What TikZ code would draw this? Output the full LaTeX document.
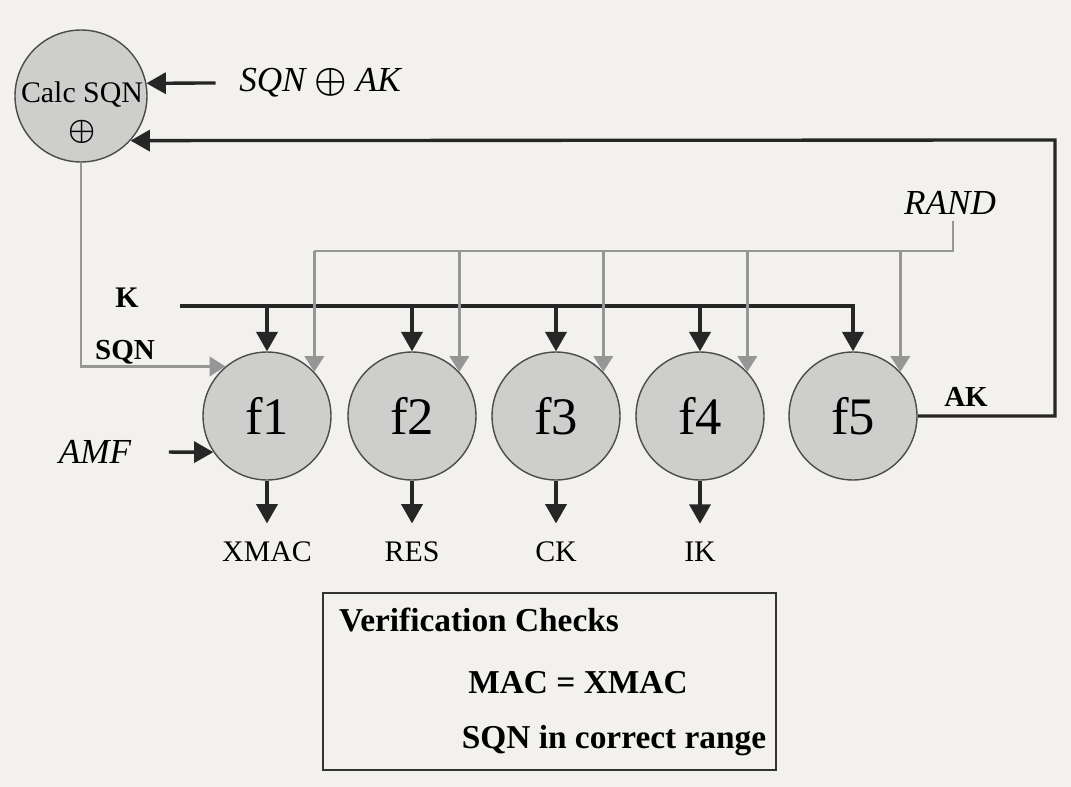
\documentclass[tikz,border=0pt]{standalone}
\usepackage{amsmath}
\usepackage{fontspec}
\setmainfont{Liberation Serif}
\usetikzlibrary{arrows.meta,positioning,calc}

\definecolor{paper}{RGB}{242,241,238}
\definecolor{disc}{RGB}{206,206,204}
\definecolor{wire}{RGB}{150,150,150}

\tikzset{
  fn/.style={circle, draw=black!70, fill=disc, line width=0.8pt, minimum size=2.56cm, inner sep=0pt, font=\fontsize{30}{30}\selectfont},
  bus/.style={line width=1.9pt, black!85},
  randwire/.style={line width=1.6pt, wire},
  arr/.style={bus, -{Triangle[length=11pt,width=12pt]}},
  garr/.style={randwire, -{Triangle[length=9pt,width=11pt]}},
  lbl/.style={font=\fontsize{17}{17}\selectfont},
  blbl/.style={font=\fontsize{16.5}{16.5}\selectfont\bfseries},
  ilbl/.style={font=\fontsize{20}{20}\selectfont\itshape},
}

\begin{document}
\begin{tikzpicture}[x=0.02cm, y=-0.02cm]
        % Page area and paper tone
        \useasboundingbox[fill=paper] (0,0) rectangle (1071,787);

        % Sequence number calculation
        \node[fn, minimum size=2.64cm] (calc) at (81,96) {};
        \node[font=\fontsize{17}{17}\selectfont, inner sep=0pt] (calctxt) at (82,95) {Calc SQN};
        \node[font=\fontsize{18}{18}\selectfont, inner sep=0pt] (calcop) at (82,132) {$\boldsymbol{\oplus}$};
        \node[ilbl] (sqnak) at (320,83) {SQN $\boldsymbol{\oplus}$ AK};
        \draw[arr] ([xshift=-10pt]sqnak.west) -- (calc.11);

        % Function blocks f1 to f5
        \foreach \n/\x in {1/267,2/412,3/556,4/700,5/853}
            \node[fn] (f\n) at (\x,416) {f\n};

        % K bus
        \coordinate (kbus) at (180,306);
        \node[blbl, font=\fontsize{17}{17}\selectfont\bfseries] (klbl) at (127,298) {K};
        \draw[arr] (kbus) -| (f5.north);
        \foreach \n in {1,...,4}
            \draw[arr] (kbus -| f\n) -- (f\n.north);

        % RAND bus
        \node[ilbl] (rand) at (950,203) {RAND};
        \coordinate (randbus) at (953,251);
        \draw[randwire] (rand.south -| randbus) -- (randbus) -- (randbus -| f1.43);
        \foreach \n in {1,...,5}
            \draw[garr] (randbus -| f\n.43) -- (f\n.43);

        % SQN into f1
        \node[blbl] (sqnlbl) at (125,352) {SQN};
        \draw[garr] (calc.south) |- (f1.130);

        % AMF into f1
        \node[ilbl] (amf) at (95,452) {AMF};
        \draw[arr, shorten <=18pt] (amf.east) -- (f1.214);

        % AK back to Calc SQN
        \node[blbl] (aklbl) at (966,397) {AK};
        \coordinate (fb) at (1055,140);
        \draw[arr] (f5.east) -| (fb) -- (calc.-42);

        % Outputs
        \foreach \n/\t in {1/XMAC,2/RES,3/CK,4/IK}{
            \node[lbl] (out\n) at ($(f\n.center)+(0,136)$) {\t};
            \draw[arr, shorten >=7pt] (f\n.south) -- (out\n.north);
        }

        % Verification box
        \node[draw=black!80, line width=0.9pt, minimum width=9.06cm, minimum height=3.54cm] (check) at (549.5,681.5) {};
        \node[font=\fontsize{19}{19}\selectfont\bfseries, anchor=west] (vlbl) at (333,620) {Verification Checks};
        \node[font=\fontsize{19}{19}\selectfont\bfseries] (mac) at (578,683) {MAC = XMAC};
        \node[font=\fontsize{19}{19}\selectfont\bfseries] (range) at (614,741) {SQN in correct range};
    \end{tikzpicture}
\end{document}
